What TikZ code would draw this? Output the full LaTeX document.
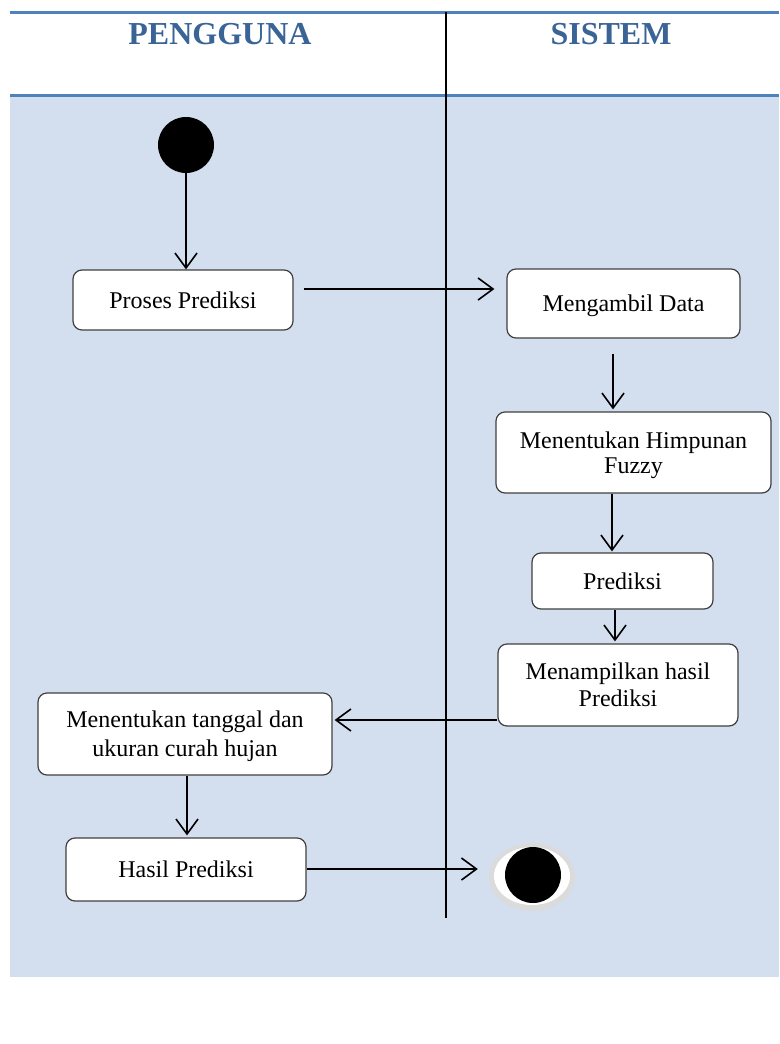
\documentclass[tikz,border=0pt]{standalone}
\usepackage{fontspec}
\setmainfont{Liberation Serif}
\usetikzlibrary{arrows.meta}
\definecolor{laneblue}{HTML}{D3DFEE}
\definecolor{rulecol}{HTML}{4F81BD}
\definecolor{headtext}{HTML}{3A6496}
\begin{document}
\begin{tikzpicture}[x=1pt,y=-1pt,
  act/.style={draw=black!75, line width=1.2pt, fill=white, rounded corners=9pt,
    inner sep=0pt, align=center, text depth=0pt, font=\fontsize{24}{27}\selectfont},
  lead/.style={font=\fontsize{24}{#1}\selectfont},
  flow/.style={line width=1.6pt, -{Straight Barb[length=15pt,width=22pt]}},
  lanehead/.style={font=\bfseries\fontsize{32}{36}\selectfont, text=headtext, inner sep=0pt}]
\useasboundingbox[fill=white] (0,0) rectangle (779,1044);
% swimlane background and rules
\fill[laneblue] (10,96) rectangle (779,977);
\draw[rulecol, line width=3pt] (10,12.5) -- (779,12.5);
\draw[rulecol, line width=3pt] (10,95.5) -- (779,95.5);
\node[lanehead, anchor=base] (hpeng) at (220,44) {PENGGUNA};
\node[lanehead, anchor=base] (hsis) at (611,44) {SISTEM};
% lane divider
\coordinate (divtop) at (446,12);
\coordinate (divbot) at (446,918);
\draw[line width=1.8pt] (divtop) -- (divbot);
% start node
\node[circle, fill=black, minimum size=56pt, inner sep=0pt] (start) at (186,145) {};
% activities
\node[act, minimum width=220pt, minimum height=60pt] (proses) at (183,300) {Proses Prediksi};
\node[act, minimum width=233pt, minimum height=69pt] (ambil) at (623.5,303.5) {Mengambil Data};
\node[act, lead=25, minimum width=275pt, minimum height=81pt] (himp) at (633.5,452.5) {Menentukan Himpunan\\Fuzzy};
\node[act, minimum width=181pt, minimum height=56pt] (pred) at (622.5,581) {Prediksi};
\node[act, lead=27, minimum width=240pt, minimum height=82pt] (tampil) at (618,685) {Menampilkan hasil\\Prediksi};
\node[act, lead=29, minimum width=294pt, minimum height=82pt] (tgl) at (185,734) {Menentukan tanggal dan\\ukuran curah hujan};
\node[act, minimum width=240pt, minimum height=63pt] (hasil) at (186,869.5) {Hasil Prediksi};
% end node
\fill[black!14] (532,877) ellipse [x radius=43, y radius=34];
\fill[white] (532,876) ellipse [x radius=38, y radius=29];
\node[circle, fill=black, minimum size=56pt, inner sep=0pt] (end) at (533,875) {};
% control flow
\draw[flow] (start.south) -- (start.south |- proses.north);
\draw[flow, shorten <=10pt, shorten >=12pt] ([yshift=11pt]proses.east) -- ([yshift=11pt]proses.east -| ambil.west);
\draw[flow, shorten <=15pt, shorten >=2pt] ([xshift=-10.5pt]ambil.south) -- ([xshift=-10.5pt]ambil.south |- himp.north);
\draw[flow, shorten >=1pt] ([xshift=-21.5pt]himp.south) -- ([xshift=-21.5pt]himp.south |- pred.north);
\draw[flow, shorten >=2pt] ([xshift=-7.5pt]pred.south) -- ([xshift=-7.5pt]pred.south |- tampil.north);
\draw[flow, shorten <=0.5pt, shorten >=2pt] ([yshift=-35pt]tampil.west) -- ([yshift=-35pt]tampil.west -| tgl.east);
\draw[flow, shorten >=2pt] ([xshift=2pt]tgl.south) -- ([xshift=2pt]tgl.south |- hasil.north);
\draw[flow, shorten >=27pt] ([yshift=0.5pt]hasil.east) -- ([yshift=0.5pt]hasil.east -| end.west);
\end{tikzpicture}
\end{document}
